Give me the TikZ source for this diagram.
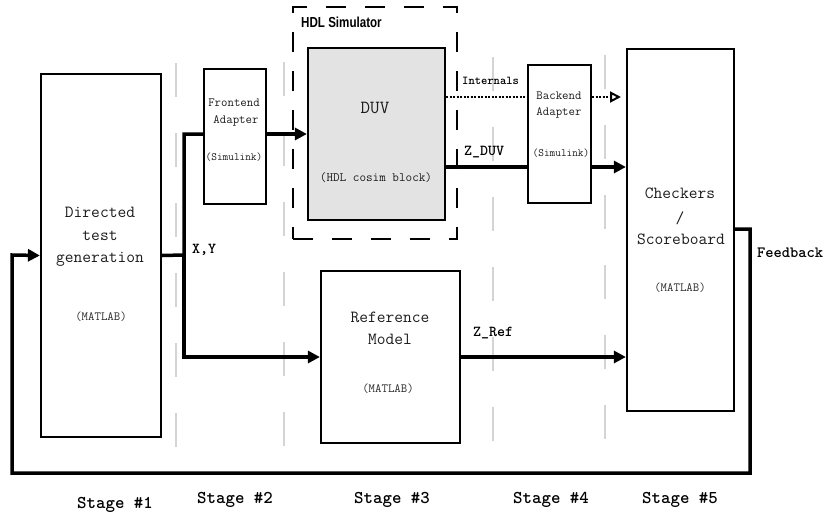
\documentclass[tikz,border=0pt]{standalone}
\usepackage{fontspec}
\newfontfamily\hdlfont[FakeStretch=0.8]{Liberation Sans}
\usetikzlibrary{arrows.meta}
\definecolor{txtc}{HTML}{1C1C1C}
\definecolor{subc}{HTML}{2A2A2A}
\definecolor{duvfill}{HTML}{E3E3E3}
\definecolor{sepc}{HTML}{D4D4D4}
\tikzset{
  blk/.style={draw, line width=2.2pt, inner sep=0pt},
  txt/.style={inner sep=0pt, text=txtc},
  lbl/.style={inner sep=0pt, anchor=west},
  conn/.style={line width=3.5pt},
  arr/.style={conn, -{Triangle[length=12pt,width=12pt]}},
  dotline/.style={line width=2.6pt, dash pattern=on 2pt off 1.5pt},
  sepline/.style={draw=sepc, line width=1.5pt, dash pattern=on 34pt off 36pt},
  big/.style={font=\ttfamily\fontsize{17}{20}\selectfont},
  mid/.style={font=\ttfamily\fontsize{12.5}{14}\selectfont},
  sim/.style={font=\ttfamily\fontsize{11}{13}\selectfont},
  sml/.style={font=\ttfamily\fontsize{12.5}{14}\selectfont, text=subc},
  bl/.style={font=\ttfamily\bfseries\fontsize{15.2}{17}\selectfont},
  stg/.style={inner sep=0pt, font=\ttfamily\bfseries\fontsize{18}{20}\selectfont}
}
\begin{document}
\begin{tikzpicture}[x=1pt,y=-1pt]
\path[use as bounding box] (0,0) rectangle (823,517);

% separator lines
\coordinate (s1a) at (176,63); \coordinate (s1b) at (176,458);
\coordinate (s2a) at (284,62); \coordinate (s2b) at (284,458);
\coordinate (s3a) at (493,57); \coordinate (s3b) at (493,450);
\coordinate (s4a) at (605,55); \coordinate (s4b) at (605,450);
\draw[sepline] (s1a) -- (s1b);
\draw[sepline] (s2a) -- (s2b);
\draw[sepline] (s3a) -- (s3b);
\draw[sepline] (s4a) -- (s4b);

% HDL simulator frame
\node[draw, line width=2pt, dash pattern=on 20pt off 19pt, minimum width=164pt, minimum height=232pt, inner sep=0pt] (hdl) at (375,123) {};
\node[inner sep=0pt, anchor=west, font=\hdlfont\bfseries\fontsize{14.5}{16}\selectfont] (hdllbl) at (301,22) {HDL Simulator};

% blocks
\node[blk, minimum width=120pt, minimum height=363pt] (dtg) at (101,255.5) {};
\node[blk, minimum width=62pt, minimum height=135pt] (fe) at (235,136.5) {};
\node[blk, fill=duvfill, minimum width=137pt, minimum height=172pt] (duv) at (376.5,134) {};
\node[blk, minimum width=63pt, minimum height=138pt] (be) at (559.5,134) {};
\node[blk, minimum width=107pt, minimum height=362pt] (chk) at (680.5,230) {};
\node[blk, minimum width=139pt, minimum height=172pt] (ref) at (390.5,357) {};

% block texts
\node[txt, big] (t1) at (100,212) {Directed};
\node[txt, big] (t2) at (100,236) {test};
\node[txt, big] (t3) at (100,259) {generation};
\node[txt, sml] (t4) at (101,317) {(MATLAB)};

\node[txt, mid] (t5) at (234,103) {Frontend};
\node[txt, mid] (t6) at (236,121) {Adapter};
\node[txt, sim] (t7) at (234,157) {(Simulink)};

\node[txt, font=\ttfamily\fontsize{18.5}{20}\selectfont] (t8) at (375,108) {DUV};
\node[txt, font=\ttfamily\fontsize{12.8}{14}\selectfont] (t9) at (376,178) {(HDL cosim block)};

\node[txt, mid] (t10) at (559,96) {Backend};
\node[txt, mid] (t11) at (559,113) {Adapter};
\node[txt, sim] (t12) at (561,153) {(Simulink)};

\node[txt, big] (t13) at (680,193) {Checkers};
\node[txt, big] (t14) at (680,218) {/};
\node[txt, big] (t15) at (681,239) {Scoreboard};
\node[txt, sml] (t16) at (680,288) {(MATLAB)};

\node[txt, big] (t17) at (390,317) {Reference};
\node[txt, big] (t18) at (390,339) {Model};
\node[txt, sml] (t19) at (388,389) {(MATLAB)};

% connectors
\coordinate (jxy) at (184,255);
\draw[conn] (dtg.east) -- (jxy) |- ([yshift=2.5pt]fe.west);
\draw[arr] (jxy) |- (ref.west);
\draw[arr] ([yshift=2.5pt]fe.east) -- (duv.west);
\draw[conn] ([yshift=-33pt]duv.east) coordinate (zd) -- (be.west |- zd);
\draw[arr] ([yshift=-33pt]be.east) coordinate (zd2) -- (chk.west |- zd2);
\draw[dotline] ([yshift=37pt]duv.east) coordinate (in1) -- (be.west |- in1);
\coordinate (intend) at (621,97);
\draw[dotline, -{Triangle[open, length=11pt, width=11pt, line width=2pt]}] ([yshift=37pt]be.east) -- (intend);
\draw[arr] (ref.east) -- (chk.west |- ref.east);
\coordinate (fb1) at (750,229);
\coordinate (fb2) at (750,473);
\coordinate (fb3) at (12,473);
\coordinate (fb4) at (12,255);
\draw[arr] ([yshift=1pt]chk.east) -- (fb1) -- (fb2) -- (fb3) -- (fb4) -- (dtg.west);

% labels
\node[lbl, font=\ttfamily\bfseries\fontsize{12}{14}\selectfont] (lint) at (462,81) {Internals};
\node[lbl, bl] (lzd) at (464,152) {Z\_DUV};
\node[lbl, bl] (lxy) at (192,250) {X,Y};
\node[lbl, bl] (lzr) at (473,333) {Z\_Ref};
\node[lbl, font=\ttfamily\bfseries\fontsize{15.7}{17}\selectfont] (lfb) at (757,253) {Feedback};

% stage labels
\node[stg] (st1) at (115,505) {Stage \#1};
\node[stg] (st2) at (235,500) {Stage \#2};
\node[stg] (st3) at (392,500) {Stage \#3};
\node[stg] (st4) at (551,500) {Stage \#4};
\node[stg] (st5) at (680,500) {Stage \#5};
\end{tikzpicture}
\end{document}
